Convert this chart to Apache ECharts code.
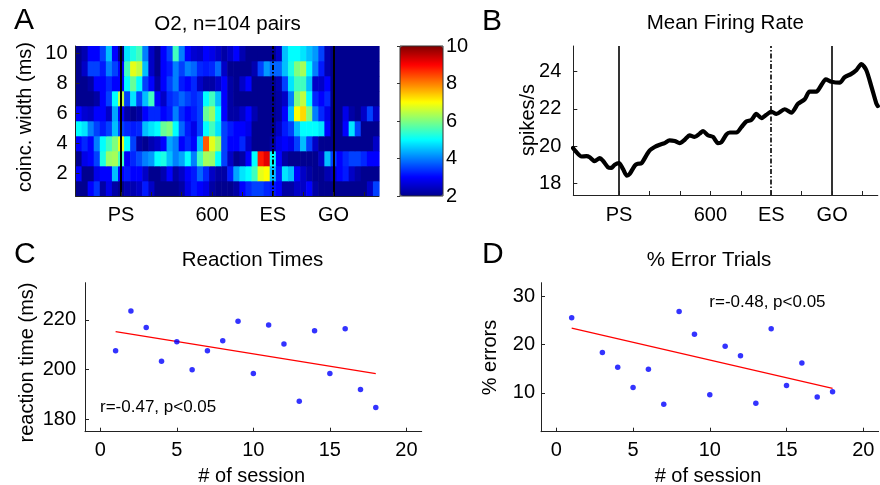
<!DOCTYPE html>
<html>
<head>
<meta charset="utf-8">
<script src="https://cdn.jsdelivr.net/npm/echarts@6/dist/echarts.min.js"></script>
<style>
  html, body { margin: 0; padding: 0; background: #fff; }
  #chart { width: 880px; height: 485px; }
</style>
</head>
<body>
<div id="chart"></div>
<script>
// ---------- Panel A: coincidence surprise per coincidence width (rows 1..10) and 20 ms time bin ----------
const binStart = 150;      // ms, left edge of first bin
const binWidth = 20;       // ms
const widthRows = [1, 2, 3, 4, 5, 6, 7, 8, 9, 10];
const cw1  = [2,2,3,3.4,2.2,2.8,2.2,2,2.3,2.3,2.5,3.2,2.5,2,2,2,2, 2.2,2.8,3.2,3,2.8,2.2,2,2,2,2.2,3,3.3,3.5,3.5,3.3,3.2, 3, 2.2,2.2,2.5,2.5,3,2.2,2,2,2,2,2,2,2,2,2.5,3.5];
const cw2  = [3,2,2,2.8,3,3,4.5,3,3.2,3,3,2.5,2,2,2.3,3,2.2, 2.5,3,3.2,3.8,3.3,2.5,2.2,2.2,3.2,4.3,4.8,5,5.5,6.8,7,4.5, 3.2, 4.8,4.5,3,2.5,2.2,2,2,2.3,2.5,3,3.2,2.5,2.2,2,2,2];
const cw3  = [2,2.8,3,3.5,5.2,6.2,6.3,5.5,3,3.3,3.6,4,4.2,5,5.2,4.5,4, 4.3,5,4,5.5,6.3,6.2,5,3.5,2.5,2,2.2,3,5,8.8,9.2,5, 3, 2.2,2,2,2,2,2,2.5,4.5,3.5,3,3.3,3.5,3.5,3.3,3,3];
const cw4  = [3,3.3,3,4,5,5.5,6,6.8,5,3.5,2.2,2,2.3,2.5,3,4.3,4, 3,3.3,3,4.5,8.3,6.8,6.2,3.5,3,3,3.3,2.5,2,2,2,2.2, 2.8, 3,2.8,3.5,4.5,3.5,2.5,2,2,2,2,2,2,2,2,2,2.5];
const cw5  = [5,4.8,4,3.5,3.2,3.5,4.5,3.5,3.3,3.2,3.3,4.5,4.8,5,5.8,6,5, 3.8,3.2,2.8,3.5,5,5.5,4.8,3.5,3.2,3,3,2.8,2,2,2,2, 2.5, 3.2,3.5,4.5,5,5,5,4.8,3,2,2,3,4.8,3.5,2,2,2];
const cw6  = [3,2.6,2.5,3,3,2.5,4.3,3,2.2,2,2.2,3,3.3,3.3,3,3.2,4, 3.3,3,3.2,3.5,5.8,6.2,5,3,2.2,2.2,2.5,3,2.3,2,2,2, 2.2, 3,4.5,7,7.3,6,4,3.3,2.8,2,2,2.8,2.2,2,2.5,3.5,2.5];
const cw7  = [2,2,2,2.2,3,3.5,5,6.5,3.5,4.8,3.5,4.5,5.5,3,2.5,3.3,3.5, 3.8,3.5,3.3,3.5,5,5.5,4.5,3,2.2,2,2,2,2,2,2,2, 2.2, 2.5,4,6,6.5,5,3.3,3,3.3,2,2,2,2,2,2,2,2];
const cw8  = [2,2,2.2,3,3,3.3,3,3,5,5.8,5,3.5,3,2.2,3,3.5,4, 3.2,3,3.3,2.5,2.2,2.2,2.5,3,2.2,2,2.5,3,2,2,2,2, 2.3, 3.5,4.8,5.5,5.5,4.5,2.5,2.5,3,2,2,2,2,2,2,2,2];
const cw9  = [2,2.5,3.5,3.5,3.2,4,3.5,3,5.5,6.8,6.5,4.5,2.5,2,3,3.2,4, 3.5,4,3.8,3.3,3.2,3.3,3.8,2.5,2,2,2,2,2.3,3.5,4.2,3.8, 3.8, 4.5,5.2,6,6.3,5,4,3.2,2.3,2,2,2,2,2,2,2,2];
const cw10 = [2,2.3,3,3,3.5,4.5,3,2,4.8,5.2,5.5,4,2.5,2,3,3.5,5.5, 4,3,2.6,2.5,3,2.8,2.5,2.2,2.5,3,2.3,2,2,2,2,2, 2.5, 4.5,5,5,4.8,4.5,4.2,3.5,2.3,2,2,2,2,2,2,2,2];
const widthData = [cw1, cw2, cw3, cw4, cw5, cw6, cw7, cw8, cw9, cw10];

// behavioural events and time-axis labels (ms)
const eventTimes = [300, 800, 1000];
const eventNames = ['PS', 'ES', 'GO'];
const timeTickValues = [300, 400, 500, 600, 700, 800, 900, 1000, 1100];
const timeLabelValues = [300, 600, 800, 1000];
const timeLabelTexts = ['PS', '600', 'ES', 'GO'];
const widthTicks = [2, 4, 6, 8, 10];
const colorMin = 2, colorMax = 10;

// ---------- Panel B: mean firing rate ----------
const rateTime  = [149,160,177,193,204,220,237,247,264,275,286,300,313,326,335,352,362,374,390,401,417,434,450,466,483,499,516,532,548,565,576,592,609,625,636,653,664,686,702,718,735,751,768,784,800,817,844,866,888,910,926,948,965,979,998,1025,1041,1063,1080,1096,1112,1129,1145,1150];
const rateValue = [19.9,19.68,19.44,19.46,19.4,19.19,19.35,19.22,18.86,18.83,19.0,19.08,18.77,18.41,18.5,18.95,19.05,19.08,19.5,19.77,19.95,20.07,20.16,20.31,20.27,20.16,20.34,20.58,20.49,20.67,20.81,20.58,20.49,20.16,20.2,20.63,20.73,20.73,21.02,21.32,21.41,21.73,21.5,21.68,21.86,21.73,21.98,21.8,22.27,22.52,22.93,22.93,23.29,23.59,23.46,23.41,23.7,23.88,24.09,24.41,24.09,23.2,22.3,22.15];
const rateTicks = [18, 20, 22, 24];

// ---------- Panel C: reaction times per session ----------
const sessionC = [1,2,3,4,5,6,7,8,9,10,11,12,13,14,15,16,17,18];
const reactionTime = [207.6,223.6,217.0,203.4,211.2,199.9,207.6,211.6,219.5,198.4,218.0,210.3,187.3,215.7,198.4,216.5,192.0,184.7];
const rtTicks = [180, 200, 220];

// ---------- Panel D: percentage of error trials per session ----------
const sessionD = [1,3,4,5,6,7,8,9,10,11,12,13,14,15,16,17,18];
const errorPct = [25.6,18.4,15.3,11.1,14.9,7.6,26.9,22.2,9.6,19.7,17.7,7.8,23.3,11.5,16.2,9.1,10.2];
const errTicks = [10, 20, 30];

// regression lines (end points)
const fitSessions = [1, 18];
const fitReaction = [215.3, 198.4];
const fitErrors = [23.45, 10.9];
const sessionTicks = [0, 5, 10, 15, 20];

// ---------- styling ----------
const FONT = '"Liberation Sans", Arial, Helvetica, sans-serif';
const AXIS_COLOR = '#222';
const jet = ['#00008F', '#0000FF', '#007FFF', '#00FFFF', '#7FFF7F', '#FFFF00', '#FF7F00', '#FF0000', '#7F0000'];

function valueAxis(gridIndex, min, max, ticks, extra) {
  const ax = {
    type: 'value', gridIndex, min, max,
    axisLine: { show: true, onZero: false, lineStyle: { color: AXIS_COLOR, width: 1 } },
    axisTick: { show: true, inside: true, length: 4, customValues: ticks, lineStyle: { color: AXIS_COLOR } },
    axisLabel: { customValues: ticks, color: '#000', fontSize: 20, fontFamily: FONT, margin: 9 },
    splitLine: { show: false }
  };
  return Object.assign(ax, extra || {});
}

function timeAxis(gridIndex, margin) {
  return valueAxis(gridIndex, binStart, binStart + 50 * binWidth, timeTickValues, {
    z: 5,
    axisLabel: {
      customValues: timeLabelValues, color: '#000', fontSize: 20, fontFamily: FONT, margin,
      formatter: v => timeLabelTexts[timeLabelValues.indexOf(v)]
    }
  });
}

function eventLines(width) {
  return {
    silent: true, symbol: ['none', 'none'], label: { show: false },
    data: eventTimes.map((t, i) => ({
      xAxis: t,
      lineStyle: { color: '#000', width, type: eventNames[i] === 'ES' ? [5, 2, 1.5, 2] : 'solid' }
    }))
  };
}

// heatmap cells: [bin centre, coincidence width, value]
const heatData = [];
widthData.forEach((row, r) => {
  row.forEach((v, k) => heatData.push([binStart + binWidth * (k + 0.5), widthRows[r], v]));
});

function text(str, x, y, size, align, rot) {
  return {
    type: 'text', x, y, rotation: rot || 0, z: 100,
    style: { text: str, fill: '#000', fontSize: size, fontFamily: FONT, textAlign: align || 'center', textVerticalAlign: 'middle' }
  };
}

const option = {
  animation: false,
  backgroundColor: '#fff',
  grid: [
    { left: 75.5, top: 46, width: 303.5, height: 150, outerBoundsMode: 'none' },
    { left: 400, top: 46, width: 43, height: 150, outerBoundsMode: 'none', show: true, borderColor: '#333', borderWidth: 1, backgroundColor: 'transparent', z: 6 },
    { left: 573.3, top: 46, width: 304.5, height: 149, outerBoundsMode: 'none' },
    { left: 85, top: 282.7, width: 336.7, height: 149, outerBoundsMode: 'none' },
    { left: 541, top: 282.7, width: 337.6, height: 149, outerBoundsMode: 'none' }
  ],
  xAxis: [
    timeAxis(0, 9),
    { type: 'value', gridIndex: 1, min: 0, max: 1, show: false },
    timeAxis(2, 10),
    valueAxis(3, -1, 21, sessionTicks, {}),
    valueAxis(4, -1, 21, sessionTicks, {})
  ],
  yAxis: [
    valueAxis(0, 0.5, 10.5, widthTicks, { z: 5, axisLabel: { customValues: widthTicks, color: '#000', fontSize: 20, fontFamily: FONT, margin: 8 } }),
    {
      type: 'value', gridIndex: 1, min: colorMin, max: colorMax, interval: 2, position: 'right', z: 7,
      axisLine: { show: false },
      axisTick: { show: true, inside: true, length: 3, lineStyle: { color: '#333' } },
      axisLabel: { color: '#000', fontSize: 20, fontFamily: FONT, margin: 3 },
      splitLine: { show: false }
    },
    valueAxis(2, 17.37, 25.38, rateTicks, { axisLabel: { customValues: rateTicks, color: '#000', fontSize: 20, fontFamily: FONT, margin: 12 } }),
    valueAxis(3, 175, 235, rtTicks, { axisLabel: { customValues: rtTicks, color: '#000', fontSize: 20, fontFamily: FONT, margin: 9 } }),
    valueAxis(4, 1.9, 32.9, errTicks, { axisLabel: { customValues: errTicks, color: '#000', fontSize: 20, fontFamily: FONT, margin: 6 } })
  ],
  visualMap: {
    type: 'continuous', seriesIndex: 0, dimension: 2,
    min: colorMin, max: colorMax, calculable: false, orient: 'vertical',
    left: 400, top: 46, itemWidth: 43, itemHeight: 150, padding: 0,
    inRange: { color: jet }, hoverLink: false
  },
  series: [
    {
      type: 'custom', xAxisIndex: 0, yAxisIndex: 0, z: 2,
      data: heatData,
      renderItem: function (params, api) {
        const t = api.value(0), r = api.value(1);
        const p0 = api.coord([t - binWidth / 2, r + 0.5]);
        const p1 = api.coord([t + binWidth / 2, r - 0.5]);
        return {
          type: 'rect',
          shape: { x: p0[0], y: p0[1], width: p1[0] - p0[0] + 0.6, height: p1[1] - p0[1] + 0.3 },
          style: { fill: api.visual('color') }
        };
      },
      clip: true,
      markLine: eventLines(2)
    },
    {
      type: 'line', xAxisIndex: 2, yAxisIndex: 2, z: 3,
      data: rateTime.map((t, i) => [t, rateValue[i]]),
      showSymbol: false, symbol: 'none', smooth: 0.25, clip: true,
      lineStyle: { color: '#000', width: 4.2, join: 'round', cap: 'round' },
      markLine: eventLines(1.6)
    },
    {
      type: 'scatter', xAxisIndex: 3, yAxisIndex: 3, z: 4,
      data: sessionC.map((s, i) => [s, reactionTime[i]]),
      symbol: 'circle', symbolSize: 5.5, itemStyle: { color: '#0000FF' }
    },
    {
      type: 'line', xAxisIndex: 3, yAxisIndex: 3, z: 3,
      data: fitSessions.map((s, i) => [s, fitReaction[i]]),
      symbol: 'none', lineStyle: { color: '#FF0000', width: 1.2 }
    },
    {
      type: 'scatter', xAxisIndex: 4, yAxisIndex: 4, z: 4,
      data: sessionD.map((s, i) => [s, errorPct[i]]),
      symbol: 'circle', symbolSize: 5.5, itemStyle: { color: '#0000FF' }
    },
    {
      type: 'line', xAxisIndex: 4, yAxisIndex: 4, z: 3,
      data: fitSessions.map((s, i) => [s, fitErrors[i]]),
      symbol: 'none', lineStyle: { color: '#FF0000', width: 1.2 }
    }
  ],
  graphic: [
    text('A', 14, 21, 30, 'left'),
    text('B', 482, 22, 30, 'left'),
    text('C', 14, 255, 30, 'left'),
    text('D', 482, 255, 30, 'left'),
    text('O2, n=104 pairs', 227.5, 24.5, 20.5),
    text('Mean Firing Rate', 725.3, 23.5, 20.5),
    text('Reaction Times', 252.5, 260, 20.5),
    text('% Error Trials', 709, 260, 20.5),
    text('coinc. width (ms)', 25.5, 117, 20, 'center', Math.PI / 2),
    text('spikes/s', 528, 120, 20, 'center', Math.PI / 2),
    text('reaction time (ms)', 27, 362.5, 20, 'center', Math.PI / 2),
    text('% errors', 490, 357.5, 20, 'center', Math.PI / 2),
    text('# of session', 251.7, 476.5, 20),
    text('# of session', 708, 476.5, 20),
    text('r=-0.47, p<0.05', 100, 407, 17, 'left'),
    text('r=-0.48, p<0.05', 709.3, 302.8, 17, 'left')
  ]
};

const chart = echarts.init(document.getElementById('chart'), null, { renderer: 'canvas' });
chart.setOption(option);
</script>
</body>
</html>
